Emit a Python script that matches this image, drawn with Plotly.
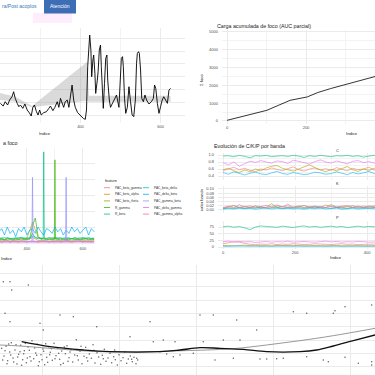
import plotly.graph_objects as go

# ---------------- data ----------------
# Panel A: foco over index (black line) and grey ribbon
A_idx = [200,207,212,218,223,229,233,237,242,246,250,256,261,267,272,277,281,285,290,294,
         298,302,308,315,321,325,331,336,342,346,350,354,358,362,367,371,375,379,383,387,
         393,400,407,412,415,418,421,423,426,428,431,433,436,438,442,444,447,450,452,455,
         457,460,463,466,468,472,475,479,483,490,496,500,502,505,507,510,513,517,521,525,
         529,533,537,540,542,545,547,550,553,557,561,565,571,577,582,585,588,592,596,600,
         604,608,612,617,621,625]
A_val = [0.91,0.70,1.04,0.78,1.17,1.43,1.82,1.30,0.91,0.65,0.78,0.52,0.86,0.39,0.18,-0.08,0.60,0.78,0.26,0.00,
         0.39,0.00,0.18,0.26,0.52,0.70,0.34,0.60,1.04,0.60,1.30,0.86,0.60,1.04,1.17,0.60,1.43,2.34,1.17,0.60,
         0.18,-0.08,-0.26,-0.34,0.39,3.78,5.08,6.25,5.08,2.99,4.30,4.69,3.26,1.69,2.73,3.39,5.08,5.47,3.78,2.21,
         0.52,2.47,4.43,4.69,2.73,1.17,0.60,0.86,1.17,1.56,0.60,3.39,4.43,4.56,3.78,1.30,0.13,0.60,2.21,1.04,
         0.00,-0.13,1.17,4.04,4.82,4.95,4.82,3.52,1.30,1.04,1.56,1.17,0.86,1.04,1.30,2.34,2.08,0.91,0.13,0.65,
         1.17,1.43,1.17,0.91,1.95,2.08]
R_idx = [195, 237, 275, 279, 417, 421, 625]
R_hi = [1.76, 1.43, 0.78, 0.70, 4.17, 1.51, 1.51]
R_lo = [1.18, 1.04, 0.65, 0.60, 1.12, 1.04, 1.04]

# Panel B: cumulative AUC
B_idx = [0, 25, 51, 75, 101, 130, 160, 203, 230, 262, 304, 340, 376, 400]
B_val = [38, 170, 319, 450, 600, 880, 1163, 1351, 1600, 1820, 2064, 2290, 2514, 2650]

# Panel C: features
C_idx = [300,310,320,330,340,350,360,370,380,390,400,410,420,430,440,450,460,470,480,490,
         500,510,520,530,540,550,560,570,580,590,600,610,620,630,640]
C_idx_coarse = [300,320,340,360,380,400,420,440,460,480,500,520,540,560,580,600,620,640]
C_features = ["PAC_beta_gamma", "PAC_beta_alpha", "PAC_beta_theta", "R_gamma", "R_beta",
              "PAC_beta_delta", "PAC_delta_beta", "PAC_gamma_beta", "PAC_delta_gamma", "PAC_gamma_alpha"]
C_colors = ["#F8766D", "#D89000", "#A3A500", "#39B600", "#00BF7D",
            "#00BFC4", "#00B0F6", "#9590FF", "#E76BF3", "#FF62BC"]
C_low = {
    "PAC_beta_gamma": [0.10,0.12,0.08,0.11,0.09,0.13,0.10,0.12,0.09,0.11,0.10,0.08,0.12,0.10,0.11,0.09,0.12,0.10],
    "PAC_beta_alpha": [0.15,0.18,0.14,0.17,0.16,0.20,0.35,0.16,0.15,0.18,0.14,0.17,0.16,0.15,0.18,0.16,0.14,0.17],
    "PAC_beta_theta": [0.25,0.22,0.28,0.24,0.26,0.30,1.30,0.35,0.26,0.23,0.27,0.25,0.24,0.28,0.22,0.26,0.25,0.23],
    "PAC_beta_delta": [0.30,0.34,0.28,0.32,0.35,0.30,0.40,0.33,0.29,0.31,0.36,0.30,0.33,0.28,0.32,0.34,0.30,0.31],
    "PAC_delta_gamma": [0.05,0.06,0.04,0.05,0.07,0.05,0.06,0.04,0.05,0.06,0.05,0.04,0.06,0.05,0.07,0.05,0.04,0.06],
    "PAC_gamma_alpha": [0.08,0.07,0.09,0.08,0.06,0.09,0.08,0.07,0.09,0.08,0.07,0.09,0.08,0.06,0.08,0.09,0.07,0.08],
}
C_delta_beta = [0.7,0.9,0.5,1.0,0.6,0.8,0.4,0.9,0.7,1.0,0.5,0.8,0.9,0.6,1.0,0.7,0.5,0.9,0.8,0.6,
                1.0,0.7,0.9,0.5,0.8,0.6,1.0,0.7,0.9,0.6,0.8,1.0,0.5,0.9,0.7]
C_gamma_beta_idx = [300,310,320,330,340,350,360,370,380,390,400,410,418,420,422,430,440,450,460,470,
                    480,490,500,510,520,530,538,540,542,550,560,570,580,590,600,610,620,630,640]
C_gamma_beta = [0.10,0.05,0.10,0.15,0.05,0.10,0.10,0.05,0.15,0.10,0.05,0.10,0.12,4.10,0.10,0.10,0.05,0.10,0.15,0.10,
                0.05,0.10,0.10,0.15,0.05,0.10,0.12,4.10,0.10,0.10,0.05,0.10,0.15,0.10,0.05,0.10,0.10,0.05,0.10]
C_R_beta_idx = [300,310,320,330,340,350,360,370,380,390,400,410,420,430,440,450,458,460,462,
                470,480,490,500,510,520,530,540,550,560,570,580,590,600,610,620,630,640]
C_R_beta = [0.25,0.30,0.22,0.33,0.28,0.24,0.31,0.27,0.35,0.26,0.29,0.23,0.60,0.32,0.27,0.30,0.28,5.70,0.30,
            0.28,0.33,0.25,0.30,0.27,0.32,0.24,0.29,0.31,0.26,0.34,0.28,0.25,0.30,0.27,0.33,0.26,0.29]
C_R_gamma_idx = [300,310,320,330,340,350,360,370,380,390,400,410,420,430,440,450,460,470,480,490,
                 498,500,502,510,520,530,540,550,560,570,580,590,600,610,620,630,640]
C_R_gamma = [0.20,0.24,0.18,0.26,0.22,0.19,0.25,0.21,0.27,0.20,0.23,0.28,1.10,1.56,0.40,0.22,0.26,0.20,0.24,0.21,
             0.22,5.20,0.24,0.23,0.19,0.25,0.22,0.20,0.26,0.21,0.24,0.19,0.23,0.27,0.20,0.24,0.22]

# Panel D: C/K/P by band
D_idx = [0,15,30,45,60,75,90,105,120,135,150,165,180,195,210,225,240,255,270,285,300,315,330,345,360,375,390,405,420,435]
D_bands = ["delta", "theta", "alpha", "beta", "gamma"]
D_colors = ["#F8766D", "#A3A500", "#00BF7D", "#00B0F6", "#E76BF3"]
D_C = {
    "delta": [0.55,0.60,0.65,0.58,0.62,0.56,0.52,0.60,0.57,0.63,0.59,0.55,0.61,0.66,0.58,0.54,0.60,0.63,0.57,0.61,0.56,0.64,0.59,0.55,0.62,0.58,0.60,0.65,0.57,0.60],
    "theta": [0.58,0.62,0.55,0.50,0.57,0.52,0.60,0.55,0.63,0.68,0.70,0.62,0.58,0.54,0.60,0.66,0.72,0.64,0.57,0.52,0.59,0.55,0.61,0.67,0.58,0.53,0.60,0.56,0.62,0.58],
    "alpha": [0.97,0.98,0.95,0.99,0.96,0.92,0.98,0.97,0.99,0.95,0.97,0.98,0.96,0.99,0.97,0.93,0.98,0.96,0.99,0.97,0.95,0.98,0.97,0.99,0.96,0.98,0.94,0.97,0.99,0.96],
    "beta":  [0.50,0.45,0.52,0.47,0.43,0.48,0.51,0.46,0.44,0.49,0.53,0.47,0.45,0.50,0.48,0.44,0.46,0.51,0.49,0.45,0.47,0.52,0.48,0.44,0.50,0.46,0.49,0.53,0.47,0.45],
    "gamma": [0.78,0.72,0.80,0.68,0.75,0.82,0.79,0.84,0.80,0.77,0.83,0.81,0.76,0.85,0.82,0.79,0.74,0.81,0.86,0.80,0.77,0.83,0.79,0.75,0.82,0.84,0.78,0.81,0.77,0.80],
}
D_K = {
    "delta": [0.012,0.018,0.010,0.025,0.014,0.020,0.011,0.016,0.022,0.013,0.019,0.015,0.028,0.012,0.017,0.021,0.014,0.018,0.011,0.024,0.016,0.013,0.019,0.015,0.022,0.012,0.018,0.014,0.020,0.016],
    "theta": [0.008,0.014,0.020,0.009,0.015,0.011,0.018,0.010,0.013,0.030,0.012,0.016,0.009,0.014,0.019,0.011,0.015,0.010,0.017,0.012,0.026,0.014,0.010,0.016,0.012,0.019,0.011,0.015,0.013,0.017],
    "alpha": [0.006,0.010,0.008,0.012,0.007,0.011,0.009,0.014,0.008,0.010,0.013,0.007,0.011,0.009,0.012,0.008,0.010,0.015,0.009,0.011,0.008,0.012,0.010,0.007,0.013,0.009,0.011,0.008,0.012,0.010],
    "beta":  [0.004,0.007,0.005,0.009,0.006,0.008,0.004,0.007,0.010,0.005,0.008,0.006,0.009,0.005,0.007,0.004,0.008,0.006,0.010,0.005,0.007,0.009,0.004,0.006,0.008,0.005,0.007,0.009,0.006,0.005],
    "gamma": [0.010,0.016,0.022,0.013,0.018,0.012,0.020,0.015,0.011,0.017,0.024,0.014,0.019,0.012,0.016,0.021,0.013,0.018,0.015,0.011,0.019,0.014,0.017,0.022,0.013,0.016,0.012,0.020,0.015,0.018],
}
D_P = {
    "delta": [12,15,20,18,14,10,9,11,10,12,9,11,10,12,11,9,10,12,11,10,9,11,12,10,11,9,10,12,11,10],
    "theta": [5,6,4,5,7,5,4,6,5,4,6,5,4,5,6,4,5,6,5,4,5,6,4,5,6,5,4,5,6,5],
    "alpha": [76,78,74,77,72,65,75,79,77,76,74,78,76,73,77,79,75,77,74,76,78,75,77,73,76,78,75,77,76,74],
    "beta":  [3,2,4,3,2,3,4,2,3,3,2,4,3,2,3,4,3,2,3,3,4,2,3,3,2,4,3,2,3,3],
    "gamma": [20,22,18,21,19,20,17,19,21,18,20,19,22,18,20,21,19,18,20,22,19,21,18,20,19,21,20,18,19,20],
}
D_facets = ["C", "K", "P"]

# Panel E: scatter + two smooth curves
E_x = [1.0,3.0,8.5,3.5,1.5,3.0,12.0,18.0,22.0,29.0,13.0,45.0,39.0,46.0,49.0,52.5,60.0,64.0,71.0,77.0,
       61.0,67.0,72.0,88.0,92.0,100.0,100.5,103.5,111.5,97.0,98.5,103.5,107.5,111.5,111.5,64.5,70.0,78.0,80.0,83.0,
       85.0,92.0,48.0,50.0,52.0,41.0,39.5,58.0,54.0,
       0.5,1.2,1.8,2.3,2.9,3.4,3.9,4.5,5.1,5.6,6.2,6.8,7.3,7.9,8.4,9.0,9.6,10.1,10.7,11.2,
       11.8,12.3,12.9,13.4,14.0,14.6,15.1,15.7,16.2,16.8,17.3,17.9,18.5,19.0,19.6,20.1,20.7,21.3,21.8,22.4,
       22.9,23.5,24.0,24.6,25.2,25.7,26.3,26.8,27.4,27.9,28.5,29.1,29.6,30.2,30.7,31.3,31.8,32.4,33.0,33.5,
       34.1,34.6,35.2,35.7,36.3,36.9,37.4,38.0,38.5,39.1,39.7,40.2,40.8,41.3,
       0.8,1.5,2.1,2.6,3.2,4.1,4.8,5.3,6.0,6.5,7.1,7.6,8.2,8.8,9.3,10.4,11.0,11.5,12.6,13.1,
       13.7,14.3,14.9,15.4,16.5,17.6,18.2,19.3,20.4,21.0,23.2,24.3,26.0,28.2,31.0,34.4]
E_y = [25.5,25.5,24.5,23.0,16.0,13.5,13.0,15.5,15.0,12.0,11.0,13.5,9.0,7.5,8.0,7.5,15.5,15.5,14.0,11.0,
       7.5,8.0,8.0,16.5,16.0,16.0,16.8,18.0,18.5,2.0,1.5,2.8,1.0,1.5,0.5,2.0,2.5,2.3,2.3,2.4,
       2.5,3.0,4.5,3.8,3.0,2.5,2.2,4.0,3.5,
       5.5,3.2,6.1,1.8,4.4,7.2,2.6,5.0,0.8,3.7,6.4,2.1,4.8,1.2,5.9,3.0,7.8,2.4,4.1,6.7,
       1.5,3.6,5.3,0.6,2.8,6.0,4.3,1.9,7.0,3.3,5.6,2.2,4.7,1.0,3.9,6.3,2.7,5.1,1.4,3.5,
       8.1,2.0,4.6,0.9,3.1,5.8,1.7,3.8,2.5,6.6,1.1,4.2,2.9,0.7,3.4,5.2,1.6,2.6,4.0,1.2,
       3.0,2.1,0.5,3.6,1.8,2.7,4.4,1.0,2.3,3.2,1.5,2.8,0.9,2.0,
       2.0,4.8,0.9,6.8,3.5,1.4,6.6,2.9,4.5,0.4,3.9,7.0,2.6,4.9,1.7,5.6,3.4,0.3,2.1,4.6,
       6.9,1.3,3.6,5.4,2.4,4.0,0.6,5.9,1.6,4.4,3.3,6.1,2.7,4.9,2.4,5.0]
E_fit_x = [6.5, 15, 25, 33, 48, 54, 60, 66, 73, 80, 90, 95, 100, 106, 112.5]
E_fit_y = [7.5, 6.0, 5.0, 4.5, 4.5, 5.0, 5.7, 5.5, 5.2, 4.5, 4.5, 5.0, 6.2, 7.8, 9.5]
E_ref_x = [0, 6, 15, 30, 45, 55, 62, 70, 80, 90, 100, 112.5]
E_ref_y = [6.5, 6.2, 5.5, 4.5, 4.5, 4.8, 5.0, 5.4, 6.5, 7.8, 9.3, 11.5]

# ---------------- layout helpers ----------------
W = H = 375
FONT = "Liberation Sans, Arial, sans-serif"
GRID = "#ebebeb"
TICKC = "#4d4d4d"


def dom_x(a, b):
    return [a / W, b / W]


def dom_y(top, bottom):
    return [1 - bottom / H, 1 - top / H]


def px(x):
    return x / W


def py(y):
    return 1 - y / H


def axis(domain, rng, anchor, dtick=None, tick0=None, minor=None, labels=True, fmt=None, matches=None):
    d = dict(domain=domain, range=rng, anchor=anchor, showline=False, zeroline=False,
             showgrid=True, gridcolor=GRID, gridwidth=0.8, ticks="",
             showticklabels=labels, tickfont=dict(size=4, color=TICKC, family=FONT))
    if dtick is not None:
        d["dtick"] = dtick
    if tick0 is not None:
        d["tick0"] = tick0
    if minor is not None:
        d["minor"] = dict(dtick=minor, showgrid=True, gridcolor="#f3f3f3", gridwidth=0.6)
    if fmt:
        d["tickformat"] = fmt
    if matches:
        d["matches"] = matches
    return d


fig = go.Figure()

# Panel A
fig.add_trace(go.Scatter(x=R_idx, y=R_lo, mode="lines", line=dict(width=0),
                         xaxis="x", yaxis="y", hoverinfo="skip"))
fig.add_trace(go.Scatter(x=R_idx, y=R_hi, mode="lines", line=dict(width=0), fill="tonexty",
                         fillcolor="rgba(150,150,150,0.35)", xaxis="x", yaxis="y", hoverinfo="skip"))
fig.add_trace(go.Scatter(x=A_idx, y=A_val, mode="lines", line=dict(color="black", width=0.9),
                         xaxis="x", yaxis="y"))

# Panel B
fig.add_trace(go.Scatter(x=B_idx, y=B_val, mode="lines", line=dict(color="black", width=0.8),
                         xaxis="x2", yaxis="y2"))

# Panel C
for name, col in zip(C_features, C_colors):
    if name in C_low:
        fig.add_trace(go.Scatter(x=C_idx_coarse, y=C_low[name], mode="lines",
                                 line=dict(color=col, width=0.6), xaxis="x3", yaxis="y3", name=name))
for name, xs, vals in [("R_beta", C_R_beta_idx, C_R_beta), ("R_gamma", C_R_gamma_idx, C_R_gamma),
                       ("PAC_delta_beta", C_idx, C_delta_beta), ("PAC_gamma_beta", C_gamma_beta_idx, C_gamma_beta)]:
    col = C_colors[C_features.index(name)]
    fig.add_trace(go.Scatter(x=xs, y=vals, mode="lines", line=dict(color=col, width=0.7),
                             xaxis="x3", yaxis="y3", name=name))

# Panel D
for fi, (facet, data) in enumerate(zip(D_facets, [D_C, D_K, D_P])):
    xa = ["x4", "x5", "x6"][fi]
    ya = ["y4", "y5", "y6"][fi]
    for band, col in zip(D_bands, D_colors):
        fig.add_trace(go.Scatter(x=D_idx, y=data[band], mode="lines",
                                 line=dict(color=col, width=0.6), xaxis=xa, yaxis=ya, name=band))

# Panel E
fig.add_trace(go.Scatter(x=E_x, y=E_y, mode="markers",
                         marker=dict(size=1.5, color="rgba(30,30,30,0.7)", line=dict(width=0)),
                         xaxis="x7", yaxis="y7"))
fig.add_trace(go.Scatter(x=E_ref_x, y=E_ref_y, mode="lines", line=dict(color="#8c8c8c", width=0.9, shape="spline"),
                         xaxis="x7", yaxis="y7"))
fig.add_trace(go.Scatter(x=E_fit_x, y=E_fit_y, mode="lines", line=dict(color="#111111", width=1.3, shape="spline"),
                         xaxis="x7", yaxis="y7"))

layout = dict(
    width=W, height=H, margin=dict(l=0, r=0, t=0, b=0, pad=0),
    paper_bgcolor="white", plot_bgcolor="white", showlegend=False,
    font=dict(family=FONT, size=5, color="#222"),
    xaxis=axis(dom_x(0, 185), [199, 661], "y", dtick=200, tick0=0, minor=100),
    yaxis=axis(dom_y(28, 123), [-0.625, 6.8], "x", dtick=1, labels=False),
    xaxis2=axis(dom_x(222, 375), [-12.7, 374.7], "y2", dtick=200, tick0=0, minor=100),
    yaxis2=axis(dom_y(30, 124), [-169, 5112], "x2", dtick=1000, tick0=0, minor=500),
    xaxis3=axis(dom_x(0, 95), [304, 643], "y3", dtick=200, tick0=0, minor=100),
    yaxis3=axis(dom_y(148, 245), [-0.125, 5.94], "x3", dtick=1, labels=False),
    xaxis4=axis(dom_x(218, 375), [-14, 422], "y4", dtick=200, tick0=0, minor=100, labels=False),
    yaxis4=axis(dom_y(153, 180), [0.286, 1.057], "x4", dtick=0.2, tick0=0, minor=0.1, fmt=".1f"),
    xaxis5=axis(dom_x(218, 375), [-14, 422], "y5", dtick=200, tick0=0, minor=100, labels=False, matches="x4"),
    yaxis5=axis(dom_y(186, 213), [-0.0143, 0.114], "x5", dtick=0.02, tick0=0, fmt=".2f"),
    xaxis6=axis(dom_x(218, 375), [-14, 422], "y6", dtick=200, tick0=0, minor=100, matches="x4"),
    yaxis6=axis(dom_y(221, 249), [-7.5, 97.5], "x6", dtick=25, tick0=0),
    xaxis7=axis(dom_x(0, 375), [0, 112.5], "y7", dtick=23.1, tick0=12.6, labels=False),
    yaxis7=axis(dom_y(265, 375), [-2.5, 30.5], "x7", dtick=4, tick0=0, labels=False),
)
for k in ["yaxis2", "yaxis4", "yaxis5", "yaxis6"]:
    layout[k]["ticklabelstandoff"] = 3
fig.update_layout(**layout)

ann = []
shapes = []


def text(x, y, s, size=5, color="#222", anchor="left", angle=0):
    ann.append(dict(x=px(x), y=py(y), xref="paper", yref="paper", text=s, showarrow=False,
                    xanchor=anchor, yanchor="middle", textangle=angle,
                    font=dict(size=size, color=color, family=FONT)))


# tabs header
text(0, 6.5, "ra/Post acoplos", size=5, color="#337ab7")
shapes.append(dict(type="rect", xref="paper", yref="paper", x0=px(33), x1=px(72), y0=py(23), y1=py(13),
                   fillcolor="rgba(250,215,250,0.45)", line=dict(width=0), layer="below"))
shapes.append(dict(type="rect", xref="paper", yref="paper", x0=px(44), x1=px(76), y0=py(13.5), y1=py(0),
                   fillcolor="#3d6db5", line=dict(width=0)))
text(60, 6.5, "Atención", size=5, color="white", anchor="center")

# panel A
text(45, 133.5, "Índice", size=4.2, anchor="center")
# panel B
text(215, 25.5, "Carga acumulada de foco (AUC parcial)", size=5.3)
text(201, 80, "Σ foco", size=4.2, anchor="center", angle=-90)
text(352, 133.5, "Índice", size=4.2, anchor="center")
# panel C
text(0.5, 143, "a foco", size=5.3, anchor="left")
text(7, 258, "Índice", size=4.2, anchor="center")
text(103, 180.5, "feature", size=3.8)
for i, (name, col) in enumerate(zip(C_features, C_colors)):
    c, r = divmod(i, 5)
    x0 = 104 + 39 * c
    yy = 187.7 + 6.6 * r
    shapes.append(dict(type="line", xref="paper", yref="paper", x0=px(x0), x1=px(x0 + 6),
                       y0=py(yy), y1=py(yy), line=dict(color=col, width=0.8)))
    text(x0 + 9, yy, name, size=3.2, color="#333")
# panel D
text(212, 146, "Evolución de C/K/P por banda", size=5.3)
for lab, yy in zip(D_facets, [150.5, 183.5, 217.5]):
    text(337, yy, lab, size=4, color="#333", anchor="center")
text(201, 200, "valor banda", size=4.2, anchor="center", angle=-90)
text(336, 257.5, "Índice", size=4.2, anchor="center")

fig.update_layout(annotations=ann, shapes=shapes)
fig.write_html("out.html", config={"displayModeBar": False},
               post_script="document.body.style.margin='0px';")
